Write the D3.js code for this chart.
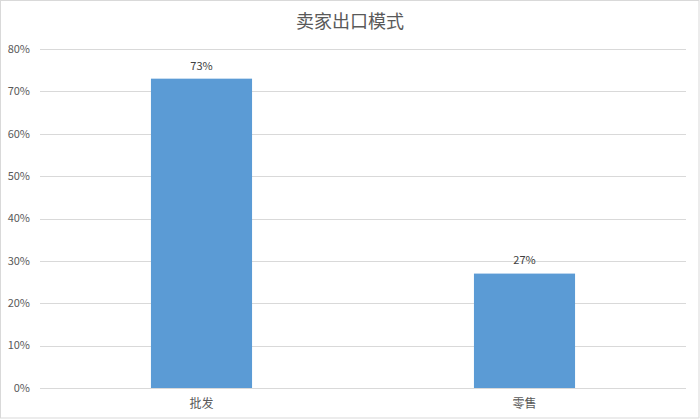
<!DOCTYPE html>
<html>
<head>
<meta charset="utf-8">
<script src="https://cdn.jsdelivr.net/npm/d3@7"></script>
<style>
  body { margin: 0; background: #fff; }
  text { font-family: "Noto Sans CJK SC", "Liberation Sans", sans-serif; fill: #595959; }
  .grid line { stroke: #d9d9d9; }
  .grid path { display: none; }
</style>
</head>
<body>
<script>
var categories = ["批发", "零售"];
var shares = [0.73, 0.27];
var yTicks = [0, 0.1, 0.2, 0.3, 0.4, 0.5, 0.6, 0.7, 0.8];
var title = "卖家出口模式";

(function(){
	var width = 700,
		height = 419,
		left = 40,
		right = 686,
		top = 49,
		bottom = 388;

	var svg = d3.select("body").append("svg")
		.attr("width", width)
		.attr("height", height);

	svg.append("rect")
		.attr("x", 0.5)
		.attr("y", 0.5)
		.attr("width", width - 1.5)
		.attr("height", height - 1.5)
		.style("fill", "#fff")
		.style("stroke", "#d9d9d9");

	var x = d3.scaleBand()
		.domain(categories)
		.range([left, right])
		.paddingInner(0.687)
		.paddingOuter(0.3435);

	var y = d3.scaleLinear()
		.domain([0, 0.8])
		.range([bottom, top]);

	// gridlines
	var grid = svg.append("g")
		.classed("grid", true)
		.attr("transform", "translate(" + left + ",0)")
		.call(d3.axisLeft(y).tickValues(yTicks).tickSize(-(right - left)).tickFormat(""));
	grid.selectAll("line").attr("shape-rendering", "crispEdges");

	// y labels
	svg.selectAll("text.ylab").data(yTicks).enter()
		.append("text")
		.classed("ylab", true)
		.attr("x", 30)
		.attr("y", function(d) {return y(d);})
		.attr("dy", "0.35em")
		.attr("text-anchor", "end")
		.style("font-size", "11px")
		.text(d3.format(".0%"));

	var data = categories.map(function(c, i) {return {name: c, value: shares[i]};});

	svg.selectAll("rect.bar").data(data).enter()
		.append("rect")
		.classed("bar", true)
		.attr("x", function(d) {return x(d.name);})
		.attr("y", function(d) {return y(d.value);})
		.attr("width", x.bandwidth())
		.attr("height", function(d) {return y(0) - y(d.value);})
		.style("fill", "#5b9bd5");

	svg.selectAll("text.val").data(data).enter()
		.append("text")
		.classed("val", true)
		.attr("x", function(d) {return x(d.name) + x.bandwidth() / 2;})
		.attr("y", function(d) {return y(d.value) - 13;})
		.attr("dy", "0.35em")
		.attr("text-anchor", "middle")
		.style("font-size", "11px")
		.style("fill", "#404040")
		.text(function(d) {return d3.format(".0%")(d.value);});

	svg.selectAll("text.cat").data(data).enter()
		.append("text")
		.classed("cat", true)
		.attr("x", function(d) {return x(d.name) + x.bandwidth() / 2;})
		.attr("y", 404)
		.attr("dy", "0.35em")
		.attr("text-anchor", "middle")
		.style("font-size", "12px")
		.text(function(d) {return d.name;});

	svg.append("text")
		.attr("x", width / 2)
		.attr("y", 22)
		.attr("dy", "0.35em")
		.attr("text-anchor", "middle")
		.style("font-size", "18px")
		.text(title);
}());
</script>
</body>
</html>
